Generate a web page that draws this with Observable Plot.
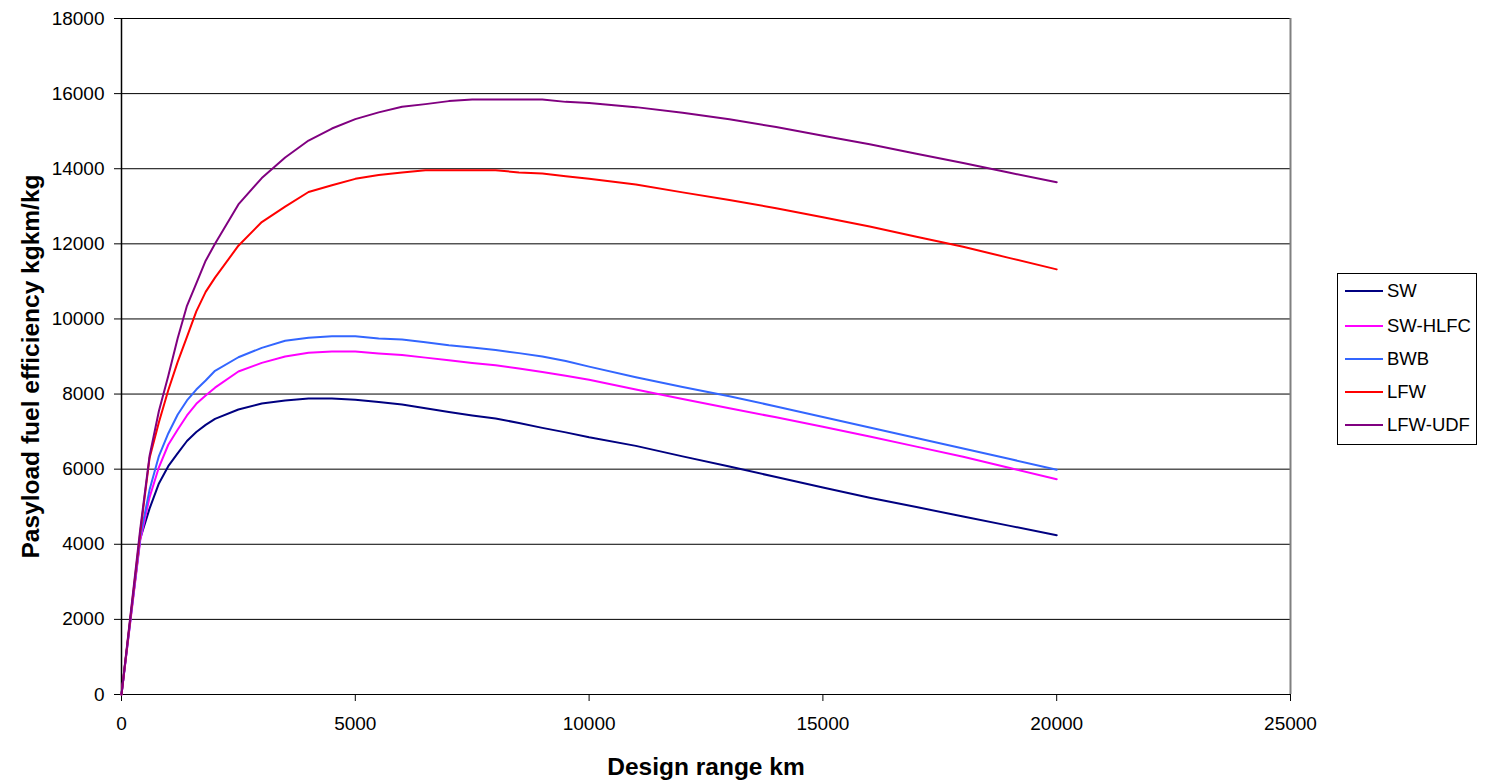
<!DOCTYPE html>
<html>
<head>
<meta charset="utf-8">
<script src="https://cdn.jsdelivr.net/npm/d3@7"></script>
<script src="https://cdn.jsdelivr.net/npm/@observablehq/plot@0.6"></script>
<style>
  html, body { margin: 0; padding: 0; background: #fff; }
  body { font-family: "Liberation Sans", Arial, sans-serif; }
  #wrap { position: relative; width: 1486px; height: 782px; }
  #legend { position: absolute; left: 1337px; top: 273px; width: 140px; height: 172px;
            border: 1px solid #000; box-sizing: border-box; background: #fff;
            font-family: "Liberation Sans", Arial, sans-serif; font-size: 18.5px; color: #000; }
  .row { position: absolute; left: 0; height: 24px; display: flex; align-items: center; white-space: nowrap; }
  .row svg { margin-left: 7px; margin-right: 4px; }
</style>
</head>
<body>
<div id="wrap"><div id="legend"></div></div>
<script>
// Design range (km)
const ranges = [0, 200, 400, 600, 800, 1000, 1200, 1400, 1600, 1800, 2000, 2500, 3000, 3500, 4000, 4500, 5000, 5500, 6000, 6500, 7000, 7500, 8000, 8500, 9000, 9500, 10000, 11000, 12000, 13000, 14000, 15000, 16000, 17000, 18000, 19000, 20000];

// Payload fuel efficiency (kgkm/kg) per configuration
const sw = [0, 2100, 4150, 4950, 5620, 6080, 6420, 6750, 6990, 7180, 7340, 7590, 7750, 7830, 7880, 7880, 7850, 7790, 7720, 7620, 7520, 7430, 7350, 7230, 7100, 6980, 6850, 6620, 6340, 6070, 5790, 5510, 5240, 4990, 4740, 4490, 4240];
const swHlfc = [0, 2050, 4100, 5250, 6050, 6650, 7050, 7430, 7740, 7960, 8170, 8600, 8830, 9000, 9100, 9130, 9130, 9080, 9040, 8970, 8900, 8830, 8770, 8680, 8590, 8490, 8380, 8120, 7870, 7620, 7380, 7130, 6870, 6600, 6330, 6030, 5730];
const bwb = [0, 2100, 4200, 5450, 6350, 6950, 7450, 7830, 8120, 8360, 8620, 8980, 9230, 9420, 9500, 9540, 9540, 9480, 9450, 9380, 9300, 9240, 9170, 9090, 9000, 8880, 8730, 8450, 8190, 7940, 7670, 7390, 7110, 6830, 6550, 6270, 5985];
const lfw = [0, 2150, 4300, 6300, 7250, 8100, 8850, 9520, 10200, 10720, 11100, 11950, 12580, 12990, 13380, 13560, 13730, 13830, 13900, 13960, 13960, 13960, 13960, 13900, 13870, 13800, 13730, 13580, 13370, 13170, 12950, 12710, 12460, 12190, 11920, 11620, 11320];
const lfwUdf = [0, 2200, 4400, 6350, 7550, 8480, 9480, 10350, 10950, 11550, 12000, 13050, 13750, 14300, 14750, 15070, 15320, 15500, 15650, 15720, 15800, 15840, 15840, 15840, 15840, 15780, 15750, 15640, 15490, 15320, 15110, 14880, 14650, 14400, 14150, 13890, 13640];

const seriesNames = ["SW", "SW-HLFC", "BWB", "LFW", "LFW-UDF"];
const seriesColors = ["#000080", "#FF00FF", "#3366FF", "#FF0000", "#800080"];
const seriesValues = [sw, swHlfc, bwb, lfw, lfwUdf];

const xTicks = [0, 5000, 10000, 15000, 20000, 25000];
const yTicks = [0, 2000, 4000, 6000, 8000, 10000, 12000, 14000, 16000, 18000];

const xTitle = "Design range km";
const yTitle = "Pasyload fuel efficiency kgkm/kg";

const rows = [];
seriesNames.forEach((name, i) => {
  ranges.forEach((r, j) => rows.push({series: name, range: r, value: seriesValues[i][j]}));
});

const chart = Plot.plot({
  width: 1486,
  height: 782,
  marginLeft: 121,
  marginRight: 196,
  marginTop: 18,
  marginBottom: 88,
  style: {fontFamily: "Liberation Sans, Arial, sans-serif", fontSize: "19px", color: "#000", background: "#fff"},
  x: {domain: [0, 25000]},
  y: {domain: [0, 18000]},
  color: {domain: seriesNames, range: seriesColors},
  marks: [
    Plot.ruleY(yTicks, {stroke: "#000", strokeWidth: 1}),
    Plot.ruleX([25000], {stroke: "#808080", strokeWidth: 2}),
    Plot.ruleX([0], {stroke: "#000", strokeWidth: 1.5}),
    Plot.axisX({ticks: xTicks, tickSize: 7, tickPadding: 15, tickFormat: d => String(d), label: null, fontSize: 19, stroke: "#000"}),
    Plot.axisY({ticks: yTicks, tickSize: 7, tickPadding: 10, tickFormat: d => String(d), label: null, fontSize: 19, stroke: "#000"}),
    Plot.line(rows, {x: "range", y: "value", z: "series", stroke: "series", strokeWidth: 2, curve: "linear"}),
    Plot.text([xTitle], {frameAnchor: "bottom", text: d => d, dy: 73, textAnchor: "middle", lineAnchor: "middle", fontSize: 24.5, fontWeight: "bold"}),
    Plot.text([yTitle], {frameAnchor: "left", text: d => d, dx: -90, dy: 10, rotate: -90, textAnchor: "middle", lineAnchor: "middle", fontSize: 24.5, fontWeight: "bold"})
  ]
});

const wrap = document.getElementById("wrap");
wrap.insertBefore(chart, wrap.firstChild);

const legend = document.getElementById("legend");
const rowCenters = [17, 51.5, 84.5, 118, 150.5];
seriesNames.forEach((name, i) => {
  const row = document.createElement("div");
  row.className = "row";
  row.style.top = (rowCenters[i] - 12) + "px";
  row.innerHTML = `<svg width="38" height="4"><line x1="0" y1="2" x2="38" y2="2" stroke="${seriesColors[i]}" stroke-width="2"/></svg><span>${name}</span>`;
  legend.appendChild(row);
});
</script>
</body>
</html>
